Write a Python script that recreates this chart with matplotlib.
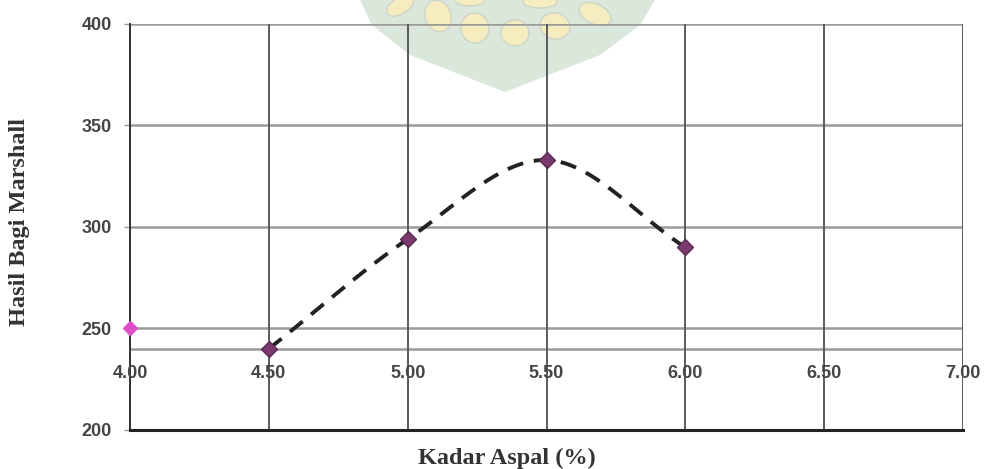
import numpy as np
import matplotlib
matplotlib.use("Agg")
import matplotlib.pyplot as plt
from matplotlib.patches import Polygon, Ellipse

# Marshall quotient vs asphalt content
kadar_aspal = [4.50, 5.00, 5.50, 6.00]
hasil_bagi = [240, 294, 333, 290]
batas_x = [4.00]
batas_y = [250]
x_ticks = [4.00, 4.50, 5.00, 5.50, 6.00, 6.50, 7.00]
y_ticks = [200, 250, 300, 350, 400]
garis_bantu = 240


def catmull_rom(xs, ys, n=40):
    xs = np.asarray(xs, float)
    ys = np.asarray(ys, float)
    px = np.concatenate([[2 * xs[0] - xs[1]], xs, [2 * xs[-1] - xs[-2]]])
    py = np.concatenate([[2 * ys[0] - ys[1]], ys, [2 * ys[-1] - ys[-2]]])
    out_x, out_y = [], []
    t = np.linspace(0, 1, n)
    for i in range(1, len(px) - 2):
        for p, out in ((px, out_x), (py, out_y)):
            p0, p1, p2, p3 = p[i - 1], p[i], p[i + 1], p[i + 2]
            out.extend(0.5 * ((2 * p1) + (-p0 + p2) * t
                              + (2 * p0 - 5 * p1 + 4 * p2 - p3) * t ** 2
                              + (-p0 + 3 * p1 - 3 * p2 + p3) * t ** 3))
    return np.array(out_x), np.array(out_y)


W, H = 984, 469
fig = plt.figure(figsize=(W / 100, H / 100), dpi=100)
fig.patch.set_facecolor("white")

# faint logo in the background
bg = fig.add_axes([0, 0, 1, 1], zorder=0)
bg.set_xlim(0, W)
bg.set_ylim(H, 0)
bg.axis("off")
bg.add_patch(Polygon([[360, 0], [655, 0], [640, 25], [600, 55], [505, 92],
                      [410, 55], [372, 25]], closed=True,
                     facecolor="#dbe7db", edgecolor="none"))
for cx, cy, w, h, a in [(400, 6, 30, 16, -30), (438, 16, 26, 32, -20),
                        (475, 28, 28, 30, -10), (515, 33, 28, 26, 0),
                        (555, 26, 30, 26, 15), (595, 14, 34, 20, 25),
                        (470, 0, 30, 12, 0), (540, 2, 34, 12, 0)]:
    bg.add_patch(Ellipse((cx, cy), w, h, angle=a, facecolor="#f5edc0",
                         edgecolor="#cdd3c9", lw=1.0))

ax = fig.add_axes([130 / W, 1 - 430 / H, (963 - 130) / W, (430 - 24) / H],
                  zorder=1)
ax.set_facecolor("none")
ax.set_xlim(x_ticks[0], x_ticks[-1])
ax.set_ylim(y_ticks[0], y_ticks[-1])

# grid
for y in y_ticks[1:]:
    ax.axhline(y, color="#9a9a9a", lw=1.8, zorder=1)
ax.axhline(garis_bantu, color="#9a9a9a", lw=1.8, zorder=1)
for x in x_ticks:
    ax.axvline(x, color="#5a5a5a", lw=1.4, zorder=1)

for s in ["top", "right"]:
    ax.spines[s].set_visible(False)
ax.spines["left"].set_color("#333333")
ax.spines["left"].set_linewidth(1.4)
ax.spines["bottom"].set_color("#222222")
ax.spines["bottom"].set_linewidth(2.2)

tick_font = dict(fontsize=13, fontweight="bold", color="#454545",
                 family="Liberation Sans")
ax.set_xticks([])
ax.set_yticks(y_ticks)
ax.set_yticklabels([str(v) for v in y_ticks], **tick_font)
ax.tick_params(axis="y", length=4, width=1, color="#999999", pad=9)

# x tick labels sit below the helper line
for x in x_ticks:
    ax.text(x, 228, f"{x:.2f}", ha="center", va="center", zorder=3,
            **tick_font)

# smoothed dashed curve through the data
sx, sy = catmull_rom(kadar_aspal, hasil_bagi)
ax.plot(sx, sy, color="#222222", lw=2.8, dashes=(4.2, 2.8), zorder=4,
        dash_capstyle="butt")
ax.plot(kadar_aspal, hasil_bagi, ls="none", marker="D", ms=8,
        color="#7a3a6e", mec="#5a2a52", zorder=5)
ax.plot(batas_x, batas_y, ls="none", marker="D", ms=7.5, color="#e04dc8",
        mec="#e04dc8", zorder=5, clip_on=False)

fig.text(20 / W, 1 - 222 / H, "Hasil Bagi Marshall", rotation=90,
         ha="center", va="center", fontsize=17.5, fontweight="bold",
         family="Liberation Serif", color="#333333")
fig.text(507 / W, 1 - 458 / H, "Kadar Aspal (%)", ha="center",
         va="center", fontsize=17.5, fontweight="bold",
         family="Liberation Serif", color="#333333")

fig.savefig("out.png", dpi=100, facecolor="white")
